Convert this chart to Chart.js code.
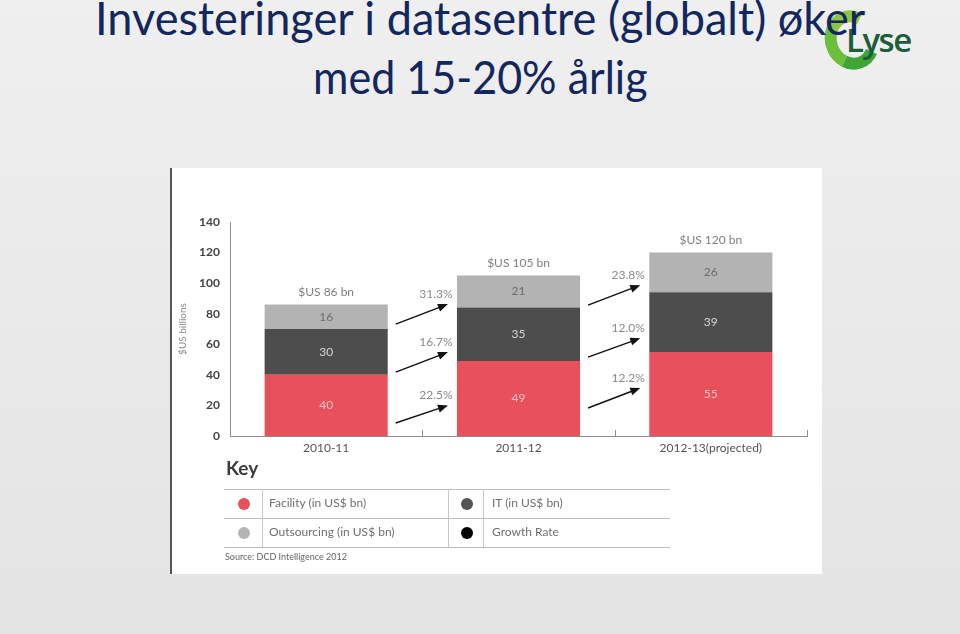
<!DOCTYPE html>
<html>
<head>
<meta charset="utf-8">
<script src="https://cdn.jsdelivr.net/npm/chart.js@4.4.0/dist/chart.umd.min.js"></script>
<style>
    body { margin: 0; width: 960px; height: 634px; overflow: hidden; position: relative;
           background: linear-gradient(#efefef, #e4e4e4); font-family: Lato, sans-serif; }
    .title { position: absolute; white-space: nowrap; font-size: 46px; line-height: 46px;
             color: #13275f; transform-origin: 0 0; z-index: 3; }
    .logo-c { position: absolute; left: 825px; top: 10px; width: 30px; height: 36px; border-radius: 50%;
              border: 12px solid transparent; border-left-color: #6cbf3c; border-top-color: #8dc63f;
              border-bottom-color: #3fa535; transform: rotate(-20deg); z-index: 1; }
    .logo-t { position: absolute; left: 846px; top: 17px; font-family: "Open Sans", sans-serif; font-weight: 600;
              font-size: 33px; letter-spacing: -1.5px; color: #1b5e3b; z-index: 2; }
    .panel { position: absolute; left: 170px; top: 168px; width: 652px; height: 406px; background: #fff;
             border-left: 2px solid #555; box-sizing: border-box; }
    .chart-box { position: absolute; left: -2px; top: 0; width: 652px; height: 300px; }
    .key-title { position: absolute; left: 54px; top: 288px; font-size: 19px; font-weight: 700; color: #3c3c3c; }
    .hline { position: absolute; left: 52px; width: 446px; height: 1px; background: #bdbdbd; }
    .vline { position: absolute; top: 321px; width: 1px; height: 58px; background: #c8c8c8; }
    .dot { position: absolute; width: 12px; height: 12px; border-radius: 50%; }
    .ktext { position: absolute; font-size: 12px; color: #707070; line-height: 14px; }
    .source { position: absolute; left: 53px; top: 383px; font-size: 9px; color: #666; }
</style>
</head>
<body>
<div class="logo-c"></div>
<div class="logo-t">Lyse</div>
<div class="title" id="t1" style="top:-5px">Investeringer i datasentre (globalt) øker</div>
<div class="title" id="t2" style="top:54px">med 15-20% årlig</div>

<div class="panel">
    <div class="chart-box"><canvas id="myChart"></canvas></div>
    <div class="key-title">Key</div>
    <div class="hline" style="top:321px"></div>
    <div class="hline" style="top:350px"></div>
    <div class="hline" style="top:379px"></div>
    <div class="vline" style="left:90px"></div>
    <div class="vline" style="left:276px"></div>
    <div class="vline" style="left:311px"></div>
    <div id="legend"></div>
    <div class="source">Source: DCD Intelligence 2012</div>
</div>

<script>
const categories = ['2010-11', '2011-12', '2012-13(projected)'];
const facility = [40, 49, 55];
const itSpend = [30, 35, 39];
const outsourcing = [16, 21, 26];
const totals = ['$US 86 bn', '$US 105 bn', '$US 120 bn'];
const yMax = 140;
const yStep = 20;

// growth rate per series, for 2010-11 -> 2011-12 and 2011-12 -> 2012-13
const growthFacility = ['22.5%', '12.2%'];
const growthIt = ['16.7%', '12.0%'];
const growthOutsourcing = ['31.3%', '23.8%'];
// where each growth arrow starts / ends, in $US bn
const arrowFrom = [[8.5, 41.8, 73.2], [18.3, 51.6, 85.6]];
const arrowTo = [[20, 54.9, 86.3], [31.4, 64, 98.7]];

const legendItems = [
    { label: 'Facility (in US$ bn)', color: '#e8505b' },
    { label: 'IT (in US$ bn)', color: '#555555' },
    { label: 'Outsourcing (in US$ bn)', color: '#b5b5b5' },
    { label: 'Growth Rate', color: '#000000' },
];

// title lines squeezed to the slide's widths
[['t1', 95, 770], ['t2', 313, 335]].forEach(([id, left, w]) => {
    const el = document.getElementById(id);
    el.style.left = left + 'px';
    el.style.transform = 'scaleX(' + (w / el.offsetWidth) + ')';
});

// key table
const legend = document.getElementById('legend');
legendItems.forEach((item, i) => {
    const col = i % 2, row = Math.floor(i / 2);
    const dot = document.createElement('div');
    dot.className = 'dot';
    dot.style.background = item.color;
    dot.style.left = (col ? 289 : 66) + 'px';
    dot.style.top = (330 + row * 29) + 'px';
    legend.appendChild(dot);
    const txt = document.createElement('div');
    txt.className = 'ktext';
    txt.textContent = item.label;
    txt.style.left = (col ? 320 : 97) + 'px';
    txt.style.top = (328 + row * 29) + 'px';
    legend.appendChild(txt);
});

const labelColors = ['#f7c3c6', '#d6d6d6', '#6e6e6e'];
const growth = [growthFacility, growthIt, growthOutsourcing];

const extras = {
    id: 'extras',
    afterDatasetsDraw(chart) {
        const { ctx, chartArea, scales: { x, y } } = chart;
        ctx.save();
        ctx.textAlign = 'center';
        ctx.textBaseline = 'middle';
        ctx.font = '12px Lato';

        // values inside segments
        chart.data.datasets.forEach((ds, d) => {
            chart.getDatasetMeta(d).data.forEach((bar, i) => {
                ctx.fillStyle = labelColors[d];
                ctx.fillText(ds.data[i], bar.x, (bar.y + bar.base) / 2);
            });
        });

        // totals above bars
        const top = chart.getDatasetMeta(2).data;
        top.forEach((bar, i) => {
            ctx.fillStyle = '#7f7f7f';
            ctx.fillText(totals[i], bar.x, bar.y - 12);
        });

        // growth arrows
        for (let g = 0; g < categories.length - 1; g++) {
            const a = top[g], b = top[g + 1];
            const x0 = a.x + a.width / 2 + 8;
            const x1 = b.x - b.width / 2 - 9;
            for (let s = 0; s < 3; s++) {
                const y0 = y.getPixelForValue(arrowFrom[g][s]);
                const y1 = y.getPixelForValue(arrowTo[g][s]);
                const ang = Math.atan2(y1 - y0, x1 - x0);
                ctx.strokeStyle = '#111';
                ctx.fillStyle = '#111';
                ctx.lineWidth = 1.4;
                ctx.beginPath();
                ctx.moveTo(x0, y0);
                ctx.lineTo(x1 - 7 * Math.cos(ang), y1 - 7 * Math.sin(ang));
                ctx.stroke();
                ctx.beginPath();
                ctx.moveTo(x1, y1);
                ctx.lineTo(x1 - 10 * Math.cos(ang) + 4 * Math.sin(ang), y1 - 10 * Math.sin(ang) - 4 * Math.cos(ang));
                ctx.lineTo(x1 - 10 * Math.cos(ang) - 4 * Math.sin(ang), y1 - 10 * Math.sin(ang) + 4 * Math.cos(ang));
                ctx.closePath();
                ctx.fill();
                ctx.fillStyle = '#8a8a8a';
                ctx.fillText(growth[s][g], x1 - 12, y1 - 10);
            }
        }

        // small ticks between categories
        ctx.strokeStyle = '#8f8f8f';
        ctx.lineWidth = 1;
        const marks = [];
        for (let i = 0; i < categories.length - 1; i++) {
            marks.push((x.getPixelForValue(i) + x.getPixelForValue(i + 1)) / 2);
        }
        marks.push(chartArea.right);
        marks.forEach(m => {
            ctx.beginPath();
            ctx.moveTo(Math.round(m) + 0.5, chartArea.bottom - 6);
            ctx.lineTo(Math.round(m) + 0.5, chartArea.bottom);
            ctx.stroke();
        });
        ctx.restore();
    }
};

const ctx = document.getElementById('myChart').getContext('2d');
const data = {
    labels: categories,
    datasets: [
        { label: 'Facility (in US$ bn)', data: facility, backgroundColor: '#e8505b' },
        { label: 'IT (in US$ bn)', data: itSpend, backgroundColor: '#4d4d4d' },
        { label: 'Outsourcing (in US$ bn)', data: outsourcing, backgroundColor: '#b3b3b3' },
    ],
};

const config = {
    type: 'bar',
    data: data,
    options: {
        responsive: true,
        maintainAspectRatio: false,
        animation: false,
        datasets: { bar: { barPercentage: 0.64, categoryPercentage: 1, borderWidth: 0 } },
        layout: { padding: { top: 54, right: 15, left: 0, bottom: 0 } },
        plugins: {
            legend: { display: false },
            tooltip: { enabled: false },
        },
        scales: {
            x: {
                stacked: true,
                grid: { display: false, drawTicks: false },
                border: { color: '#8f8f8f', width: 1 },
                ticks: { color: '#555', font: { family: 'Lato', size: 12 }, padding: 5 },
                afterFit(s) { s.height = 32; },
            },
            y: {
                stacked: true,
                min: 0,
                max: yMax,
                grid: { display: false, drawTicks: false },
                border: { color: '#8f8f8f', width: 1 },
                ticks: { stepSize: yStep, color: '#444', font: { family: 'Lato', size: 12, weight: 'bold' }, padding: 10 },
                title: { display: true, text: '$US billions', color: '#8a8a8a', font: { family: 'Lato', size: 10 }, padding: { top: 7, bottom: 0 } },
                afterFit(s) { s.width = 60; },
            },
        },
    },
    plugins: [extras],
};

const myChart = new Chart(ctx, config);
</script>
</body>
</html>
